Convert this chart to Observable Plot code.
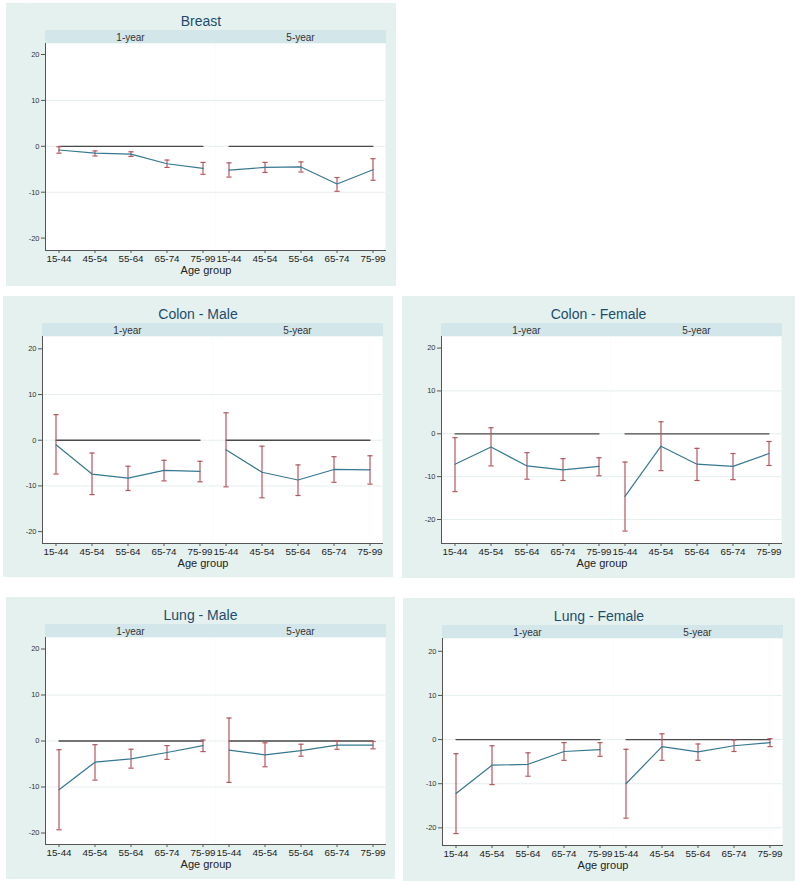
<!DOCTYPE html>
<html>
<head>
<meta charset="utf-8">
<script src="https://cdn.jsdelivr.net/npm/d3@7"></script>
<script src="https://cdn.jsdelivr.net/npm/@observablehq/plot@0.6"></script>
<style>
  html, body { margin: 0; padding: 0; background: #ffffff; }
  #root { position: relative; width: 796px; height: 884px; font-family: "Liberation Sans", Arial, sans-serif; }
  .panel { position: absolute; background: #e5f1ef; }
  .title { position: absolute; left: 0; right: 0; top: 10px; text-align: center; font-size: 14px; color: #1d4d6e; }
  .strip { position: absolute; left: 38.5px; width: 341px; top: 27px; height: 13px; background: #d3e6ea; }
  .panel svg { position: absolute; left: 0; top: 0; }
  .xtitle { position: absolute; top: 261px; left: 0; width: 400px; text-align: center; font-size: 11px; color: #222; }
</style>
</head>
<body>
<div id="root"></div>
<script>
// ---------- data ----------
const ageGroups = ["15-44", "45-54", "55-64", "65-74", "75-99"];
const horizons = ["1-year", "5-year"];
const panelTitles = ["Breast", "Colon - Male", "Colon - Female", "Lung - Male", "Lung - Female"];
const yTicks = [-20, -10, 0, 10, 20];
const referenceLevel = 0;

// values per panel: 1-year (5 age groups) then 5-year (5 age groups)
const breastEst = [-0.8, -1.5, -1.7, -3.8, -4.8, -5.2, -4.6, -4.5, -8.2, -5.1];
const breastLo  = [-1.5, -2.1, -2.2, -4.6, -6.1, -6.7, -5.7, -5.6, -9.8, -7.4];
const breastHi  = [-0.1, -1.0, -1.2, -3.0, -3.5, -3.6, -3.5, -3.4, -6.8, -2.7];

const colonMaleEst = [-1.0, -7.4, -8.3, -6.6, -6.8, -2.1, -7.0, -8.7, -6.4, -6.5];
const colonMaleLo  = [-7.4, -11.9, -11.0, -8.9, -9.1, -10.2, -12.6, -12.1, -9.2, -9.6];
const colonMaleHi  = [5.6, -2.8, -5.7, -4.4, -4.6, 6.0, -1.3, -5.4, -3.6, -3.4];

const colonFemaleEst = [-7.1, -3.1, -7.5, -8.4, -7.6, -14.6, -2.9, -7.1, -7.6, -4.6];
const colonFemaleLo  = [-13.5, -7.5, -10.6, -10.9, -9.8, -22.7, -8.6, -10.9, -10.7, -7.4];
const colonFemaleHi  = [-0.9, 1.4, -4.4, -5.8, -5.6, -6.6, 2.8, -3.4, -4.6, -1.8];

const lungMaleEst = [-10.6, -4.6, -3.9, -2.5, -1.0, -2.0, -3.0, -2.1, -0.9, -0.9];
const lungMaleLo  = [-19.3, -8.5, -5.9, -4.0, -2.3, -9.0, -5.6, -3.3, -1.8, -1.7];
const lungMaleHi  = [-1.9, -0.8, -1.8, -1.0, 0.2, 5.0, -0.4, -0.7, 0.1, -0.1];

const lungFemaleEst = [-12.2, -5.8, -5.6, -2.7, -2.3, -10.0, -1.6, -2.8, -1.4, -0.7];
const lungFemaleLo  = [-21.3, -10.2, -8.3, -4.7, -3.8, -17.8, -4.7, -4.7, -2.7, -1.6];
const lungFemaleHi  = [-3.2, -1.4, -3.0, -0.7, -0.7, -2.2, 1.3, -1.0, -0.1, 0.2];

const panelSeries = [
  [breastEst, breastLo, breastHi],
  [colonMaleEst, colonMaleLo, colonMaleHi],
  [colonFemaleEst, colonFemaleLo, colonFemaleHi],
  [lungMaleEst, lungMaleLo, lungMaleHi],
  [lungFemaleEst, lungFemaleLo, lungFemaleHi]
];

// ---------- layout / scale options ----------
const panelBoxes = [
  {left: 6, top: 3, width: 390, height: 283},
  {left: 3, top: 296, width: 390, height: 281},
  {left: 402, top: 296, width: 393, height: 282},
  {left: 6, top: 597, width: 389, height: 282},
  {left: 403, top: 598, width: 392, height: 283}
];
const yDomains = [[-22.7, 22.4], [-22.6, 22.7], [-25.6, 22.7], [-22.5, 22.5], [-24.0, 22.9]];
const gridValues = [[-10, 0, 10], [-10, 0, 10], [-20, -10, 0, 10], [-10, 0, 10], [-20, -10, 0, 10]];

const lineColor = "#367891";
const ciColor = "#b5575f";
const axisColor = "#555555";
const textColor = "#333333";

const capSymbol = {
  draw(context, size) {
    const w = Math.sqrt(size / Math.PI);
    context.moveTo(-w, 0);
    context.lineTo(w, 0);
  }
};

const root = document.getElementById("root");

panelTitles.forEach((title, i) => {
  const box = panelBoxes[i];
  const [est, lo, hi] = panelSeries[i];
  const rows = [];
  horizons.forEach((h, hIndex) => {
    ageGroups.forEach((a, ai) => {
      const k = hIndex * ageGroups.length + ai;
      rows.push({horizon: h, age: a, est: est[k], lo: lo[k], hi: hi[k]});
    });
  });

  const panel = document.createElement("div");
  panel.className = "panel";
  Object.assign(panel.style, {left: box.left + "px", top: box.top + "px", width: box.width + "px", height: box.height + "px"});

  const strip = document.createElement("div");
  strip.className = "strip";
  panel.appendChild(strip);

  const plot = Plot.plot({
    width: box.width,
    height: 280,
    marginTop: 40,
    marginLeft: 38.5,
    marginRight: box.width - 379.5,
    marginBottom: 33,
    style: {background: "transparent", fontFamily: "'Liberation Sans', Arial, sans-serif", color: textColor, overflow: "visible"},
    fx: {domain: horizons, padding: 0, label: null},
    x: {type: "point", domain: ageGroups, padding: 0.33, label: null},
    y: {domain: yDomains[i], label: null},
    marks: [
      Plot.frame({fill: "white", stroke: null}),
      Plot.gridY(gridValues[i], {stroke: "#e6eef0", strokeOpacity: 1, strokeWidth: 1}),
      Plot.frame({anchor: "bottom", stroke: axisColor, strokeWidth: 1}),
      Plot.frame({anchor: "left", stroke: axisColor, strokeWidth: 1, facetAnchor: "left"}),
      Plot.axisFx({anchor: "top", tickSize: 0, tickPadding: 2.5, fontSize: 10, label: null, fill: textColor}),
      Plot.axisX({anchor: "bottom", tickSize: 3, tickPadding: 2, fontSize: 9.8, label: null, stroke: axisColor, fill: "#222"}),
      Plot.axisY({anchor: "left", ticks: yTicks, tickSize: 4, tickPadding: 2, fontSize: 7.5, label: null, stroke: axisColor, fill: textColor, tickFormat: d => String(d)}),
      Plot.lineY(rows, {fx: "horizon", x: "age", y: () => referenceLevel, stroke: "#4a4a4a", strokeWidth: 1.3}),
      Plot.ruleX(rows, {fx: "horizon", x: "age", y1: "lo", y2: "hi", stroke: ciColor, strokeWidth: 1.2}),
      Plot.dot(rows, {fx: "horizon", x: "age", y: "lo", symbol: capSymbol, r: 2.6, fill: "none", stroke: ciColor, strokeWidth: 1.2}),
      Plot.dot(rows, {fx: "horizon", x: "age", y: "hi", symbol: capSymbol, r: 2.6, fill: "none", stroke: ciColor, strokeWidth: 1.2}),
      Plot.lineY(rows, {fx: "horizon", x: "age", y: "est", stroke: lineColor, strokeWidth: 1.2})
    ]
  });
  panel.appendChild(plot);

  const t = document.createElement("div");
  t.className = "title";
  t.textContent = title;
  panel.appendChild(t);

  const xt = document.createElement("div");
  xt.className = "xtitle";
  xt.textContent = "Age group";
  panel.appendChild(xt);

  root.appendChild(panel);
});
</script>
</body>
</html>
